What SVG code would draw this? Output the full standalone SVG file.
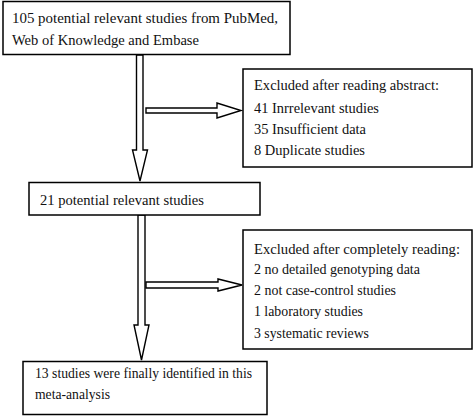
<svg xmlns="http://www.w3.org/2000/svg" width="474" height="420" viewBox="0 0 474 420">
<style>
.box{fill:#fff;stroke:#000;stroke-width:1.5}
.arr{fill:#fff;stroke:#000;stroke-width:1.4;stroke-linejoin:miter}
text{font-family:"Liberation Serif","Times New Roman",serif;font-size:14.6px;fill:#111}
</style>
<rect width="474" height="420" fill="#fff"/>
<g id="connectors">
<polygon class="arr" points="136.5,55 143,55 143,150 147.5,150 140,181 132.5,150 136.5,150"/>
<polygon class="arr" points="146,108 217,108 217,103 241,110.5 217,118 217,113 146,113"/>
<polygon class="arr" points="138,215 145,215 145,325 149,325 141.5,360 134,325 138,325"/>
<polygon class="arr" points="146,282 218,282 218,279 242,285 218,291 218,288 146,288"/>
</g>
<g id="n1">
<rect class="box" x="3" y="1.5" width="287" height="53"/>
<text x="12" y="23" textLength="266" lengthAdjust="spacingAndGlyphs">105 potential relevant studies from PubMed,</text>
<text x="12" y="45" textLength="187" lengthAdjust="spacingAndGlyphs">Web of Knowledge and Embase</text>
</g>
<g id="n2">
<rect class="box" x="243" y="69" width="229" height="98"/>
<text x="254" y="90" textLength="185" lengthAdjust="spacingAndGlyphs">Excluded after reading abstract:</text>
<text x="254" y="113" textLength="125" lengthAdjust="spacingAndGlyphs">41 Inrrelevant studies</text>
<text x="254" y="134" textLength="112" lengthAdjust="spacingAndGlyphs">35 Insufficient data</text>
<text x="254" y="155" textLength="111" lengthAdjust="spacingAndGlyphs">8 Duplicate studies</text>
</g>
<g id="n3">
<rect class="box" x="29" y="182.5" width="231" height="32.5"/>
<text x="40" y="205" textLength="164" lengthAdjust="spacingAndGlyphs">21 potential relevant studies</text>
</g>
<g id="n4">
<rect class="box" x="243" y="230" width="229" height="119"/>
<text x="254" y="254" textLength="206" lengthAdjust="spacingAndGlyphs">Excluded after completely reading:</text>
<text x="254" y="274" textLength="166" lengthAdjust="spacingAndGlyphs">2 no detailed genotyping data</text>
<text x="254" y="295" textLength="142" lengthAdjust="spacingAndGlyphs">2 not case-control studies</text>
<text x="254" y="316" textLength="109" lengthAdjust="spacingAndGlyphs">1 laboratory studies</text>
<text x="254" y="338" textLength="115" lengthAdjust="spacingAndGlyphs">3 systematic reviews</text>
</g>
<g id="n5">
<rect class="box" x="23" y="361.5" width="244" height="53"/>
<text x="35" y="378" textLength="217" lengthAdjust="spacingAndGlyphs">13 studies were finally identified in this</text>
<text x="35" y="399" textLength="75" lengthAdjust="spacingAndGlyphs">meta-analysis</text>
</g>
</svg>
